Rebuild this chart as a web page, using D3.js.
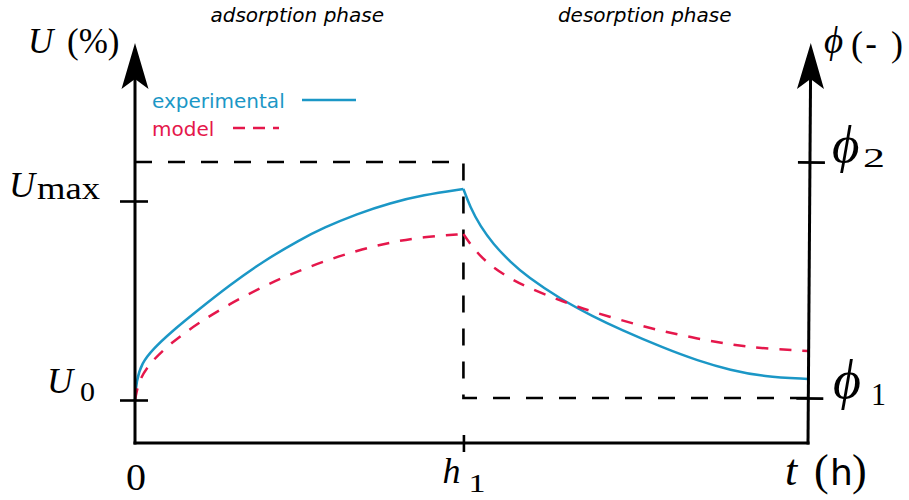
<!DOCTYPE html>
<html>
<head>
<meta charset="utf-8">
<script src="https://cdn.jsdelivr.net/npm/d3@7/dist/d3.min.js"></script>
<style>
  html, body { margin: 0; padding: 0; background: #fff; }
  svg { display: block; }
</style>
</head>
<body>
<svg id="chart" width="909" height="500"></svg>
<script>
// ---------------- data (t in h, U in %, schematic units) ----------------
const tEnd = 100;
const h1 = 48.8;
const U0 = 10.75;
const Umax = 60.5;
const phi1 = 11.25;
const phi2 = 70.25;

const expAdsorption = [[0,10.75],[0.2,15.5],[1.0,20],[2.7,23.5],[5.2,27.5],[9.2,33],[14.1,39.5],[19.1,45.5],[24.5,50.8],[28,53.8],[33,57.3],[37.9,60],[42.8,62],[48.8,63.5]];
const expDesorption = [[48.8,63.5],[49.8,59],[51.3,54.2],[53.2,49.8],[55.8,45.2],[58.3,41.6],[63.2,36],[68.1,31.6],[72.1,28.4],[78.5,23.8],[83.6,20.6],[88.5,18.2],[93.4,16.6],[100,16]];
const modelAdsorption = [[0,10.75],[0.6,16],[2.5,20.5],[5.2,24.8],[9.2,29.8],[14.1,34.8],[19.1,39.2],[23.1,42.2],[28,45.4],[33,48.1],[37.9,50.2],[42.8,51.5],[48.8,52.25]];
const modelDesorption = [[48.8,52.25],[50.3,48.6],[52.3,45],[55.3,41.5],[58.3,38.9],[63.2,35.6],[68.1,32.7],[74.6,29.6],[78.5,27.9],[83.6,26.1],[88.5,24.6],[93.4,23.6],[100,23]];
const humidityProfile = [[0,phi2],[h1,phi2],[h1,phi1],[tEnd,phi1]];

const phaseTitles = ["adsorption phase", "desorption phase"];
const legendLabels = ["experimental", "model"];

// ---------------- setup ----------------
const BLUE = "#1b97c6";
const RED = "#e5174b";
const svg = d3.select("#chart");
const x = d3.scaleLinear().domain([0, tEnd]).range([135, 808]);
const y = d3.scaleLinear().domain([0, 100]).range([443, 43]);
const SERIF = "'Liberation Serif', 'DejaVu Serif', serif";
const SANS = "'DejaVu Sans', sans-serif";

// humidity step (dashed guide)
svg.append("path")
  .datum(humidityProfile)
  .attr("d", d3.line().x(d => x(d[0])).y(d => y(d[1])))
  .attr("fill", "none").attr("stroke", "#000")
  .attr("stroke-width", 2.6).attr("stroke-dasharray", "17,16");

// curves
const line = d3.line().x(d => x(d[0])).y(d => y(d[1])).curve(d3.curveBasis);
[expAdsorption, expDesorption].forEach(seg => {
  svg.append("path").datum(seg).attr("d", line)
    .attr("fill", "none").attr("stroke", BLUE).attr("stroke-width", 2.5);
});
[modelAdsorption, modelDesorption].forEach(seg => {
  svg.append("path").datum(seg).attr("d", line)
    .attr("fill", "none").attr("stroke", RED).attr("stroke-width", 2.5)
    .attr("stroke-dasharray", "12,11");
});

// arrow head helper (in local coords, axis at x=0)
function arrow(g) {
  const tip = y(100);
  g.append("path")
    .attr("d", `M0,${tip} L13.5,${tip + 46} L0,${tip + 36} L-13.5,${tip + 46} Z`)
    .attr("fill", "#000");
}

// left axis
const gL = svg.append("g").attr("transform", `translate(${x(0)},0)`)
  .call(d3.axisLeft(y).tickValues([U0, Umax]).tickSize(15).tickSizeOuter(0).tickFormat(""));
gL.select(".domain").remove();
gL.selectAll(".tick line").attr("x1", 13).attr("stroke", "#000").attr("stroke-width", 2.6);
gL.append("line").attr("x1", 0).attr("x2", 0).attr("y1", y(0) + 1.5).attr("y2", y(100) + 30)
  .attr("stroke", "#000").attr("stroke-width", 3);
arrow(gL);

// bottom axis
const gB = svg.append("g").attr("transform", `translate(0,${y(0)})`)
  .call(d3.axisBottom(x).tickValues([h1]).tickSize(9).tickSizeOuter(0).tickFormat(""));
gB.select(".domain").remove();
gB.selectAll(".tick line").attr("y1", -8).attr("stroke", "#000").attr("stroke-width", 2.6);
gB.append("line").attr("x1", x(0) - 1.5).attr("x2", x(tEnd) + 1.5).attr("y1", 0).attr("y2", 0)
  .attr("stroke", "#000").attr("stroke-width", 3);

// right axis (slightly leaning, as in the reference)
const gR = svg.append("g").attr("transform", `translate(${x(tEnd)},0) rotate(0.4,0,${y(0)})`)
  .call(d3.axisRight(y).tickValues([phi1, phi2]).tickSize(15).tickSizeOuter(0).tickFormat(""));
gR.select(".domain").remove();
gR.selectAll(".tick line").attr("x1", -12).attr("stroke", "#000").attr("stroke-width", 2.6);
gR.append("line").attr("x1", 0).attr("x2", 0).attr("y1", y(0) + 1.5).attr("y2", y(100) + 30)
  .attr("stroke", "#000").attr("stroke-width", 3);
arrow(gR);

// ---------------- text ----------------
function txt(s, px, py, size, opts = {}) {
  const t = svg.append("text").text(s)
    .attr("x", px).attr("y", py)
    .attr("font-family", opts.family || SERIF)
    .attr("font-size", size)
    .attr("font-style", opts.italic ? "italic" : "normal")
    .attr("fill", opts.fill || "#000");
  if (opts.anchor) t.attr("text-anchor", opts.anchor);
  if (opts.len) t.attr("textLength", opts.len).attr("lengthAdjust", "spacingAndGlyphs");
  return t;
}

// phase titles
txt(phaseTitles[0], (x(0) + x(h1)) / 2 - 2, 22, 20, {family: SANS, italic: true, anchor: "middle"});
txt(phaseTitles[1], (x(h1) + x(tEnd)) / 2 + 9, 22, 20, {family: SANS, italic: true, anchor: "middle"});

// legend
txt(legendLabels[0], 152, 108, 20, {family: SANS, fill: BLUE});
txt(legendLabels[1], 152, 136, 20, {family: SANS, fill: RED});
svg.append("line").attr("x1", 302).attr("x2", 356).attr("y1", 100).attr("y2", 100)
  .attr("stroke", BLUE).attr("stroke-width", 2.5);
svg.append("line").attr("x1", 233).attr("x2", 279).attr("y1", 128).attr("y2", 128)
  .attr("stroke", RED).attr("stroke-width", 2.5).attr("stroke-dasharray", "12,8");

// left axis title & ticks
txt("U", 28, 53, 35, {italic: true});
txt("(%)", 67, 53, 35);
txt("U", 9, y(Umax) - 4, 36, {italic: true});
txt("max", 37, y(Umax) - 2, 31, {len: 63});
txt("U", 47, y(U0) - 7, 36, {italic: true});
txt("0", 80, y(U0) + 1, 27, {len: 15});

// bottom ticks & title
txt("0", x(0) + 1, 490, 37, {anchor: "middle", len: 20});
txt("h", x(h1) - 21, 483, 36, {italic: true});
txt("1", x(h1) + 5, 492, 25, {len: 17});
txt("t", 785, 485, 44, {italic: true});
txt("(", 814, 485, 44);
txt("h", 830, 485, 36, {family: SANS});
txt(")", 852, 485, 44);

// right axis title & ticks
txt("\u03D5", 824, 53, 37, {italic: true});
txt("(", 851, 56, 36);
txt("-", 865, 56, 34, {family: SANS});
txt(")", 891, 56, 36);
txt("\u03D5", 832, y(phi2), 53, {italic: true});
txt("2", 863, y(phi2) + 5, 28, {len: 22});
txt("\u03D5", 833, y(phi1), 54, {italic: true});
txt("1", 871, y(phi1) + 7, 32, {len: 15});
</script>
</body>
</html>
